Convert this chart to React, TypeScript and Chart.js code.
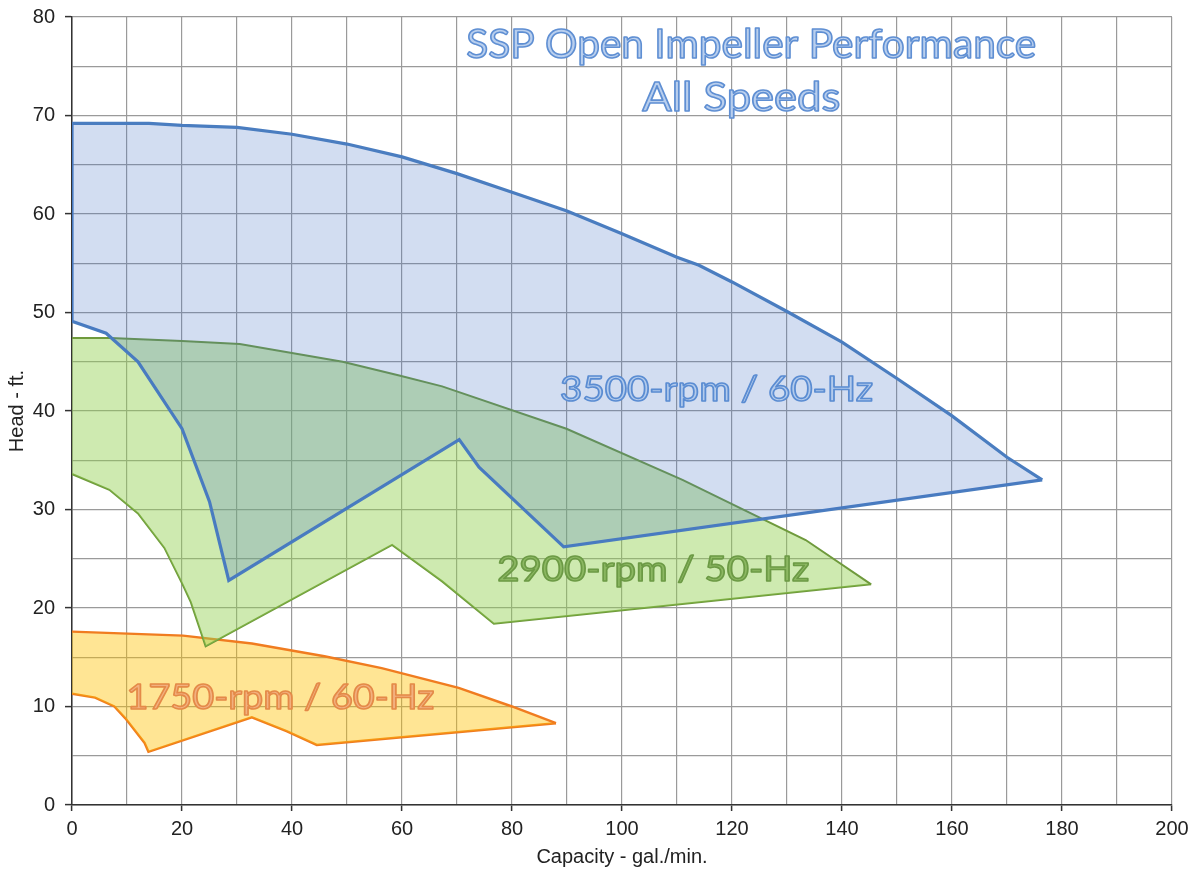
import React, { useEffect, useRef } from "react";
import { Chart, registerables } from "chart.js";

Chart.register(...registerables);

// ---- Data (capacity in gal./min., head in ft.) ----
const rpm3500UpperCapacity = [0, 14, 20, 30, 40, 50, 60, 70, 80, 90, 100, 110, 114, 120, 130, 140, 150, 160, 170, 176.4];
const rpm3500UpperHead = [69.2, 69.2, 69.0, 68.8, 68.1, 67.1, 65.8, 64.1, 62.2, 60.3, 58.0, 55.6, 54.8, 53.1, 50.1, 47.0, 43.3, 39.5, 35.3, 33.0];
const rpm3500LowerCapacity = [0, 0, 6.2, 12, 20, 25, 28.5, 70.4, 74, 89.4, 176.4];
const rpm3500LowerHead = [69.2, 49.1, 47.9, 45.0, 38.2, 30.8, 22.8, 37.1, 34.3, 26.2, 33.0];

const rpm2900UpperCapacity = [0, 7, 20, 30.5, 49.2, 59.5, 67.3, 89.9, 111, 133.4, 145.3];
const rpm2900UpperHead = [47.4, 47.4, 47.1, 46.8, 45.0, 43.6, 42.5, 38.2, 33.0, 26.9, 22.4];
const rpm2900LowerCapacity = [0, 6.8, 12, 16.8, 20.1, 21.6, 24.3, 58.2, 67.3, 76.7, 145.3];
const rpm2900LowerHead = [33.6, 32.0, 29.6, 26.1, 22.4, 20.6, 16.1, 26.4, 22.7, 18.4, 22.4];

const rpm1750UpperCapacity = [0, 20.2, 32.7, 45.9, 56.3, 70.3, 80, 88];
const rpm1750UpperHead = [17.6, 17.2, 16.4, 15.1, 13.9, 11.9, 10.0, 8.3];
const rpm1750LowerCapacity = [0, 4.2, 7.7, 9.7, 13.2, 13.9, 32.7, 39, 44.5, 88];
const rpm1750LowerHead = [11.3, 10.9, 10.0, 8.8, 6.3, 5.4, 8.9, 7.5, 6.1, 8.3];

const seriesLabels = ["3500-rpm / 60-Hz", "2900-rpm / 50-Hz", "1750-rpm / 60-Hz"];
const chartTitleLines = ["SSP Open Impeller Performance", "All Speeds"];
const xAxisTitle = "Capacity - gal./min.";
const yAxisTitle = "Head - ft.";

const xMin = 0;
const xMax = 200;
const xGridStep = 10;
const xLabelStep = 20;
const yMin = 0;
const yMax = 80;
const yGridStep = 5;
const yLabelStep = 10;

function zip(xs: number[], ys: number[]) {
  return xs.map((x, i) => ({ x, y: ys[i] }));
}

const FONT = "'Liberation Sans', Arial, Helvetica, sans-serif";

const outlinedTextPlugin = {
  id: "outlinedText",
  afterDatasetsDraw(chart: any) {
    const { ctx, scales } = chart;
    const xs = scales.x;
    const ys = scales.y;
    const items = [
      { text: chartTitleLines[0], cx: 123.5, by: 75.8, size: 40, width: 570, fill: "#b9cfee", stroke: "#5f8fd3" },
      { text: chartTitleLines[1], cx: 121.7, by: 70.5, size: 40, width: 198, fill: "#b9cfee", stroke: "#5f8fd3" },
      { text: seriesLabels[0], cx: 117.2, by: 41.0, size: 35, width: 313, fill: "#b3cbec", stroke: "#5a8cd2" },
      { text: seriesLabels[1], cx: 105.7, by: 22.7, size: 35, width: 312, fill: "#8cb862", stroke: "#6c9a45" },
      { text: seriesLabels[2], cx: 37.9, by: 9.75, size: 35, width: 308, fill: "#f2b07f", stroke: "#e48a48" },
    ];
    for (const it of items) {
      ctx.save();
      ctx.font = `${it.size}px Lato, 'Open Sans', sans-serif`;
      const w = ctx.measureText(it.text).width || 1;
      const sx = it.width / w;
      ctx.translate(xs.getPixelForValue(it.cx), ys.getPixelForValue(it.by));
      ctx.scale(sx, 1);
      ctx.textAlign = "center";
      ctx.textBaseline = "alphabetic";
      ctx.lineJoin = "round";
      ctx.fillStyle = it.fill;
      ctx.fillText(it.text, 0, 0);
      ctx.strokeStyle = it.stroke;
      ctx.lineWidth = 1.6;
      ctx.strokeText(it.text, 0, 0);
      ctx.restore();
    }
  },
};

export default function App() {
  const canvasRef = useRef<HTMLCanvasElement | null>(null);

  useEffect(() => {
    if (!canvasRef.current) return;
    Chart.defaults.font.family = FONT;

    const blue = "#4a7dc0";
    const blueFill = "rgba(68,114,196,0.24)";
    const green = "#6f9a3c";
    const greenFill = "rgba(146,208,80,0.45)";
    const orange = "#f07c20";
    const orangeFill = "rgba(255,192,0,0.42)";

    const base = { pointRadius: 0, pointHoverRadius: 0, tension: 0 };

    const chart = new Chart(canvasRef.current, {
      type: "line",
      data: {
        datasets: [
          { ...base, label: seriesLabels[0], data: zip(rpm3500UpperCapacity, rpm3500UpperHead), borderColor: blue, borderWidth: 3.2, backgroundColor: blueFill, fill: "+1" },
          { ...base, label: seriesLabels[0] + " low", data: zip(rpm3500LowerCapacity, rpm3500LowerHead), borderColor: blue, borderWidth: 3.2, fill: false },
          { ...base, label: seriesLabels[1], data: zip(rpm2900UpperCapacity, rpm2900UpperHead), borderColor: green, borderWidth: 2, backgroundColor: greenFill, fill: "+1" },
          { ...base, label: seriesLabels[1] + " low", data: zip(rpm2900LowerCapacity, rpm2900LowerHead), borderColor: green, borderWidth: 2, fill: false },
          { ...base, label: seriesLabels[2], data: zip(rpm1750UpperCapacity, rpm1750UpperHead), borderColor: orange, borderWidth: 2.4, backgroundColor: orangeFill, fill: "+1" },
          { ...base, label: seriesLabels[2] + " low", data: zip(rpm1750LowerCapacity, rpm1750LowerHead), borderColor: orange, borderWidth: 2.4, fill: false },
        ] as any,
      },
      options: {
        animation: false,
        responsive: true,
        maintainAspectRatio: false,
        layout: { padding: { top: 17, right: 28, left: 0, bottom: 0 } },
        plugins: {
          legend: { display: false },
          tooltip: { enabled: false },
          title: { display: false },
        },
        scales: {
          x: {
            type: "linear",
            min: xMin,
            max: xMax,
            ticks: {
              stepSize: xGridStep,
              autoSkip: false,
              maxRotation: 0,
              color: "#222",
              font: { size: 20, family: FONT },
              padding: 6,
              callback: (v: any) => (Number(v) % xLabelStep === 0 ? String(v) : ""),
            },
            grid: {
              color: "#9a9a9a",
              lineWidth: 1.2,
              tickLength: 6,
              tickWidth: 1.5,
              tickColor: (c: any) => (c.tick && c.tick.value % xLabelStep === 0 ? "#333" : "rgba(0,0,0,0)"),
            },
            border: { color: "#333", width: 1.5 },
            title: { display: true, text: xAxisTitle, color: "#222", font: { size: 20, family: FONT }, padding: { top: 0, bottom: 3 } },
            afterFit: (s: any) => {
              s.height = 67;
              s.paddingLeft = 0;
              s.paddingRight = 0;
            },
          },
          y: {
            type: "linear",
            min: yMin,
            max: yMax,
            ticks: {
              stepSize: yGridStep,
              autoSkip: false,
              color: "#222",
              font: { size: 20, family: FONT },
              padding: 10,
              callback: (v: any) => (Number(v) % yLabelStep === 0 ? String(v) : ""),
            },
            grid: {
              color: "#9a9a9a",
              lineWidth: 1.2,
              tickLength: 7,
              tickWidth: 1.5,
              tickColor: (c: any) => (c.tick && c.tick.value % yLabelStep === 0 ? "#333" : "rgba(0,0,0,0)"),
            },
            border: { color: "#333", width: 1.5 },
            title: { display: true, text: yAxisTitle, color: "#222", font: { size: 20, family: FONT }, padding: { top: 5, bottom: 0 } },
            afterFit: (s: any) => {
              s.width = 72;
              s.paddingTop = 0;
              s.paddingBottom = 0;
            },
          },
        },
      } as any,
      plugins: [outlinedTextPlugin],
    });

    return () => chart.destroy();
  }, []);

  return (
    <div style={{ position: "fixed", left: 0, top: 0, width: 1200, height: 872, background: "#fff" }}>
      <canvas ref={canvasRef} />
    </div>
  );
}
